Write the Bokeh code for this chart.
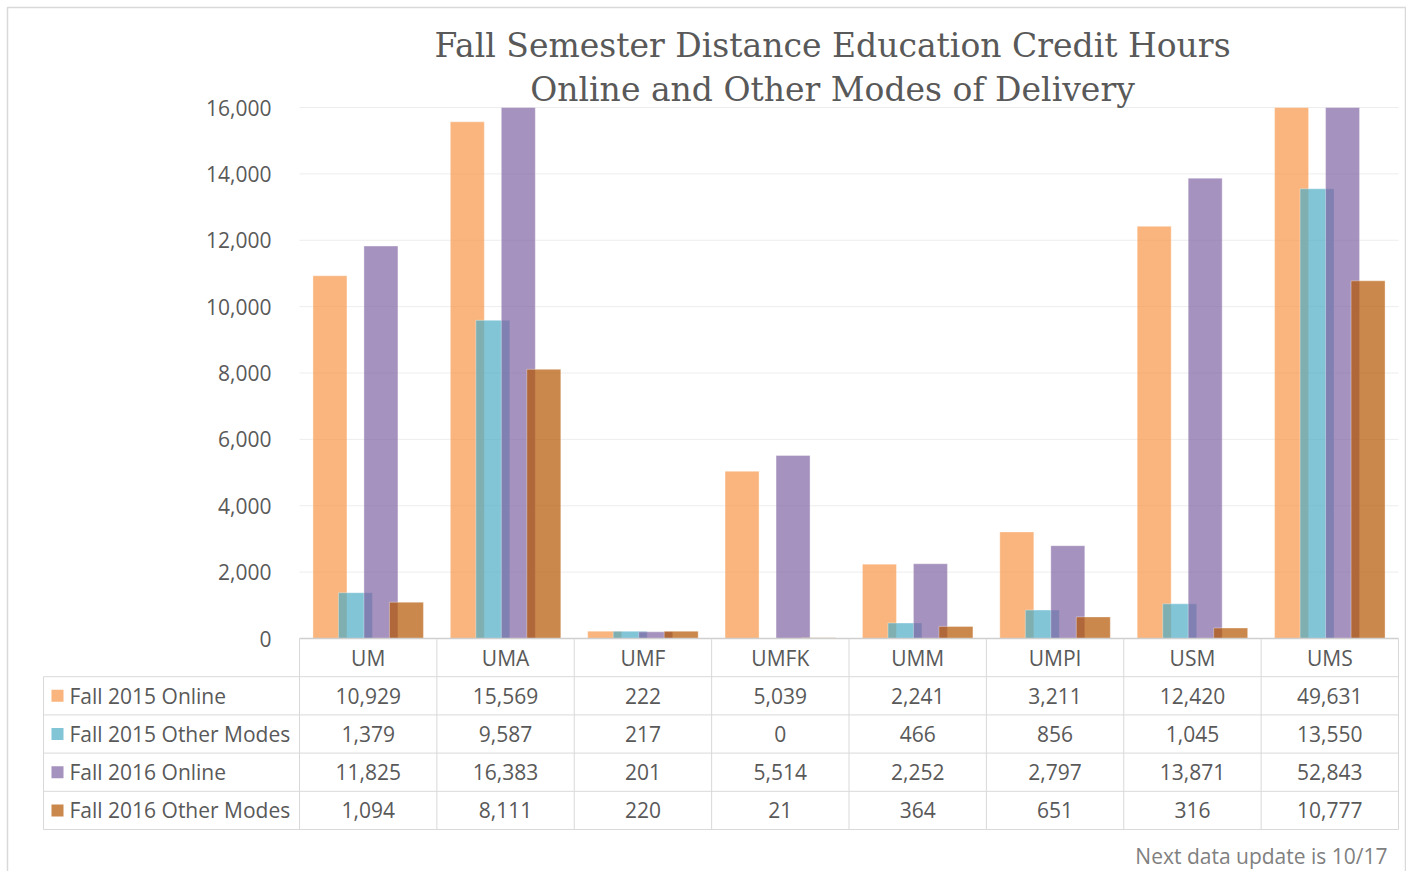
from bokeh.plotting import figure
from bokeh.models import Range1d
from bokeh.embed import file_html
from bokeh.resources import INLINE
from bokeh.core.properties import value

# ---------------- data ----------------
categories = ["UM", "UMA", "UMF", "UMFK", "UMM", "UMPI", "USM", "UMS"]
series_names = ["Fall 2015 Online", "Fall 2015 Other Modes", "Fall 2016 Online", "Fall 2016 Other Modes"]
online_2015 = [10929, 15569, 222, 5039, 2241, 3211, 12420, 49631]
other_2015 = [1379, 9587, 217, 0, 466, 856, 1045, 13550]
online_2016 = [11825, 16383, 201, 5514, 2252, 2797, 13871, 52843]
other_2016 = [1094, 8111, 220, 21, 364, 651, 316, 10777]
y_ticks = [0, 2000, 4000, 6000, 8000, 10000, 12000, 14000, 16000]
title_lines = ["Fall Semester Distance Education Credit Hours", "Online and Other Modes of Delivery"]
note_text = "Next data update is 10/17"

series_values = [online_2015, other_2015, online_2016, other_2016]
colors = ["#F79646", "#4BACC6", "#8064A2", "#B55502"]
ALPHA = 0.7

# ---------------- layout (page pixels) ----------------
W, H = 1406, 871
X0 = 299            # px of category axis start
X1 = 1398           # px of category axis end
n = len(categories)
m = len(series_names)
CW = (X1 - X0) / n
Y_MAX = y_ticks[-1]
PY_TOP = 107        # px of Y_MAX
PY_ZERO = 638       # px of 0
RH = 38.2
ppu = (PY_ZERO - PY_TOP) / Y_MAX


def xd(px):
    return (px - X0) / CW


def yd(py):
    return (PY_ZERO - py) / ppu


BODY_FONT = "Open Sans"
TXT = "#595959"
LINE = "#D9D9D9"
FS = "21px"

p = figure(width=W, height=H, x_range=Range1d(xd(0), xd(W)), y_range=Range1d(yd(H), yd(0)),
           output_backend="svg", toolbar_location=None,
           x_axis_location=None, y_axis_location=None,
           min_border_left=0, min_border_right=0, min_border_top=0, min_border_bottom=0)
p.outline_line_color = None
p.grid.visible = False
p.background_fill_color = "white"
p.border_fill_color = "white"

# outer chart border
p.quad(left=[xd(7)], right=[xd(1405)], top=[yd(7)], bottom=[yd(H + 5)],
       fill_color=None, line_color="#D9D9D9", line_width=1.5)

# gridlines
p.segment(x0=[0] * len(y_ticks), x1=[n] * len(y_ticks), y0=y_ticks, y1=y_ticks,
          line_color="#EDEDED", line_width=1)
# y tick labels
p.text(x=[xd(271)] * len(y_ticks), y=y_ticks, text=[f"{t:,}" for t in y_ticks],
       text_font=value(BODY_FONT), text_font_size=FS, text_color=TXT,
       text_align="right", text_baseline="middle")

# bars (clipped at the axis maximum, as the chart's value axis is)
BW = 0.2475
STEP = 0.1856
offsets = [(k - (m - 1) / 2) * STEP for k in range(m)]
for k, vals in enumerate(series_values):
    p.vbar(x=[i + 0.5 + offsets[k] for i in range(n)], top=[min(v, Y_MAX) for v in vals],
           bottom=0, width=BW, fill_color=colors[k], fill_alpha=ALPHA,
           line_color="white", line_alpha=0.35, line_width=1)

# axis line
p.segment(x0=[0], y0=[0], x1=[n], y1=[0], line_color="#CFCFCF", line_width=1.5)

# ---------------- data table ----------------
row_y = [yd(PY_ZERO + k * RH) for k in range(m + 2)]   # boundaries: axis, after categories, after each series
tbl_left = xd(43)
# horizontal lines (below category row)
p.segment(x0=[tbl_left] * (m + 1), x1=[n] * (m + 1), y0=row_y[1:], y1=row_y[1:],
          line_color=LINE, line_width=1)
# vertical lines
p.segment(x0=list(range(n + 1)), x1=list(range(n + 1)), y0=[0] * (n + 1), y1=[row_y[-1]] * (n + 1),
          line_color=LINE, line_width=1)
p.segment(x0=[tbl_left], x1=[tbl_left], y0=[row_y[1]], y1=[row_y[-1]], line_color=LINE, line_width=1)

# category labels
cat_y = (row_y[0] + row_y[1]) / 2
p.text(x=[i + 0.5 for i in range(n)], y=[cat_y] * n, text=categories,
       text_font=value(BODY_FONT), text_font_size=FS, text_color=TXT,
       text_align="center", text_baseline="middle")

ser_y = [(row_y[j + 1] + row_y[j + 2]) / 2 for j in range(m)]
p.scatter(x=[xd(57)] * m, y=ser_y, marker="square", size=12,
          fill_color=colors, fill_alpha=ALPHA, line_color=None)
p.text(x=[xd(69)] * m, y=ser_y, text=series_names,
       text_font=value(BODY_FONT), text_font_size=FS, text_color=TXT,
       text_align="left", text_baseline="middle")

cx, cy, ct = [], [], []
for j, vals in enumerate(series_values):
    for i, v in enumerate(vals):
        cx.append(i + 0.5)
        cy.append(ser_y[j])
        ct.append(f"{v:,}")
p.text(x=cx, y=cy, text=ct, text_font=value(BODY_FONT), text_font_size=FS, text_color=TXT,
       text_align="center", text_baseline="middle")

# note
p.text(x=[xd(1387)], y=[yd(855)], text=[note_text], text_font=value(BODY_FONT),
       text_font_size=FS, text_color="#808080", text_align="right", text_baseline="middle")

# title
p.text(x=[xd(832)] * len(title_lines), y=[yd(45), yd(89)], text=title_lines,
       text_font=value("DejaVu Serif"), text_font_size="33px", text_color=TXT,
       text_align="center", text_baseline="middle")

open("out.html", "w").write(file_html(p, INLINE))
